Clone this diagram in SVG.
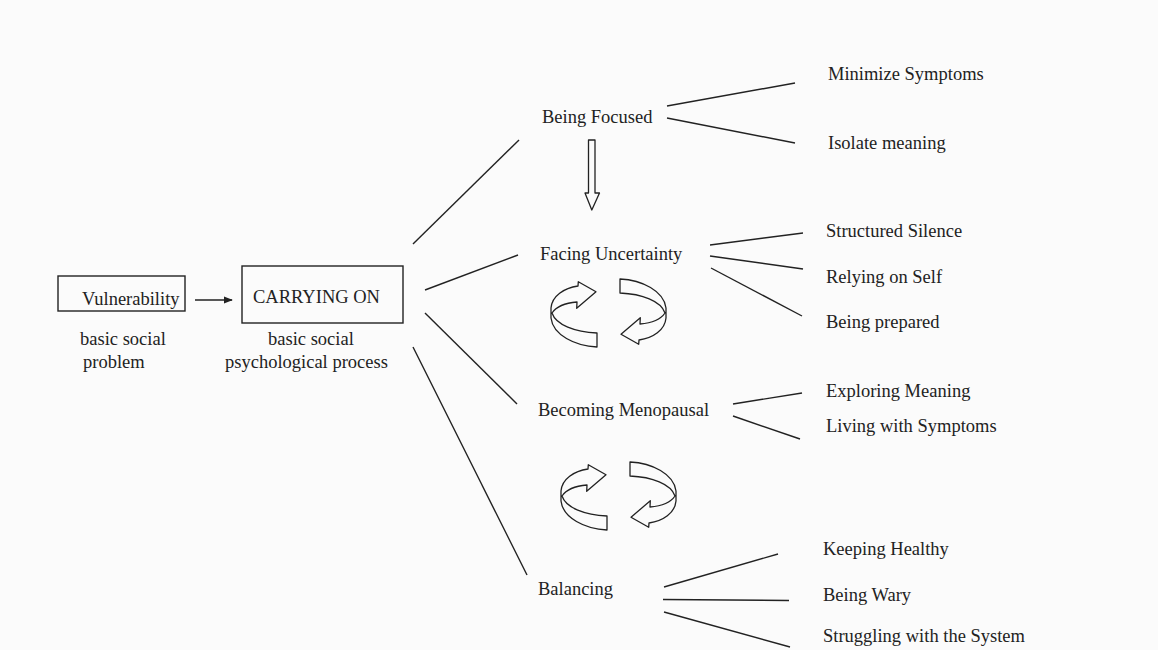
<svg xmlns="http://www.w3.org/2000/svg" xmlns:xlink="http://www.w3.org/1999/xlink" width="1158" height="650" viewBox="0 0 1158 650">
<style>
  text { font-family: "Liberation Serif", "Times New Roman", serif; font-size: 18.5px; fill: #222; }
  .ln { stroke: #222; stroke-width: 1.4; fill: none; }
  .box { stroke: #222; stroke-width: 1.4; fill: none; }
  .shape { stroke: #222; stroke-width: 1.3; fill: #fbfbfb; stroke-linejoin: round; }
</style>
<defs>
  <marker id="ah" viewBox="0 0 10 10" refX="9" refY="5" markerWidth="9" markerHeight="9" markerUnits="userSpaceOnUse" orient="auto">
    <path d="M0,1 L10,5 L0,9 Z" fill="#222"/>
  </marker>
  <g id="cycle">
    <path class="shape" d="M597,347 C575,346 553,335 551,318 L551,308 C552,296 564,288 578,286 L578.3,281.7 L596,291.7 L576.7,308.3 L577,302 C565,303 556,307 552,313 C556,325 575,332 597,333 Z"/>
    <path class="shape" transform="rotate(180 608.5 313)" d="M597,347 C575,346 553,335 551,318 L551,308 C552,296 564,288 578,286 L578.3,281.7 L596,291.7 L576.7,308.3 L577,302 C565,303 556,307 552,313 C556,325 575,332 597,333 Z"/>
  </g>
</defs>
<rect width="1158" height="650" fill="#fbfbfb"/>

<g id="connectors">
  <line class="ln" x1="195" y1="300" x2="232" y2="300" marker-end="url(#ah)"/>
  <line class="ln" x1="413" y1="244" x2="519" y2="140"/>
  <line class="ln" x1="425" y1="290" x2="518" y2="255"/>
  <line class="ln" x1="425" y1="313" x2="517" y2="404"/>
  <line class="ln" x1="413" y1="347" x2="527" y2="575"/>
  <line class="ln" x1="667" y1="106" x2="795" y2="83"/>
  <line class="ln" x1="667" y1="118" x2="795" y2="143"/>
  <line class="ln" x1="710" y1="245" x2="803" y2="233"/>
  <line class="ln" x1="710" y1="256" x2="803" y2="269"/>
  <line class="ln" x1="711" y1="268" x2="802" y2="316"/>
  <line class="ln" x1="733" y1="404" x2="802" y2="393"/>
  <line class="ln" x1="733" y1="416" x2="800" y2="439"/>
  <line class="ln" x1="664" y1="587" x2="778" y2="554"/>
  <line class="ln" x1="663" y1="599.5" x2="789" y2="600.5"/>
  <line class="ln" x1="664" y1="612" x2="790" y2="647"/>
  <path id="down-arrow" class="shape" d="M588.5,140 L595,140 L595,193 L599.5,193 L591.8,210 L585,193 L588.5,193 Z"/>
  <use id="cycle1" xlink:href="#cycle"/>
  <use id="cycle2" xlink:href="#cycle" transform="translate(10,183)"/>
</g>

<g id="vulnerability">
  <rect class="box" x="58" y="276" width="127" height="35"/>
  <text x="82" y="305">Vulnerability</text>
  <text x="80" y="345">basic social</text>
  <text x="83" y="368">problem</text>
</g>
<g id="carrying-on">
  <rect class="box" x="242" y="266" width="161" height="57"/>
  <text x="253" y="303">CARRYING ON</text>
  <text x="268" y="345">basic social</text>
  <text x="225" y="368">psychological process</text>
</g>
<g id="being-focused"><text x="542" y="123">Being Focused</text></g>
<g id="facing-uncertainty"><text x="540" y="260">Facing Uncertainty</text></g>
<g id="becoming-menopausal"><text x="538" y="416">Becoming Menopausal</text></g>
<g id="balancing"><text x="538" y="595">Balancing</text></g>
<g id="minimize-symptoms"><text x="828" y="80">Minimize Symptoms</text></g>
<g id="isolate-meaning"><text x="828" y="149">Isolate meaning</text></g>
<g id="structured-silence"><text x="826" y="237">Structured Silence</text></g>
<g id="relying-on-self"><text x="826" y="283">Relying on Self</text></g>
<g id="being-prepared"><text x="826" y="328">Being prepared</text></g>
<g id="exploring-meaning"><text x="826" y="397">Exploring Meaning</text></g>
<g id="living-with-symptoms"><text x="826" y="432">Living with Symptoms</text></g>
<g id="keeping-healthy"><text x="823" y="555">Keeping Healthy</text></g>
<g id="being-wary"><text x="823" y="601">Being Wary</text></g>
<g id="struggling"><text x="823" y="642">Struggling with the System</text></g>
</svg>
